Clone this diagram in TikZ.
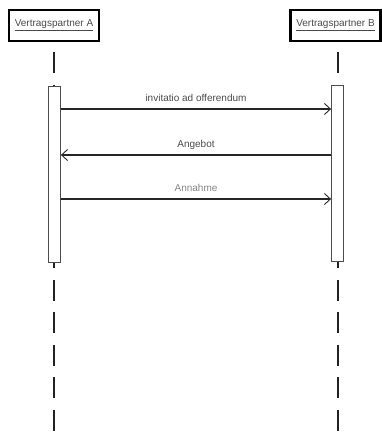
\documentclass[tikz,border=0pt]{standalone}
\usepackage{fontspec}
\setmainfont{Liberation Sans}
\usepackage{xcolor}
\usetikzlibrary{arrows.meta,positioning,calc}

\definecolor{msgtext}{HTML}{4A4A4A}
\definecolor{msgtextlight}{HTML}{858585}
\definecolor{lifeline}{HTML}{222222}

\begin{document}
\begin{tikzpicture}[x=1pt,y=-1pt,
  every node/.style={font=\fontsize{10}{12}\selectfont},
  partner/.style={draw=black,line width=2.4pt,minimum width=90pt,minimum height=31pt,inner sep=0pt,text=msgtext},
  activation/.style={draw=black!70,fill=white,line width=0.8pt,minimum width=12pt,inner sep=0pt},
  lifelinestyle/.style={draw=lifeline,line width=2.5pt,dash pattern=on 21pt off 11.5pt},
  message/.style={draw=black!85,line width=2pt,-{Straight Barb[length=6pt,width=11pt,line width=0.9pt]}}]
\useasboundingbox (0,0) rectangle (382,432);
  % the two partners
  \node[partner] (partnerA) at (54,25.5) {\underline{Vertragspartner A}};
  \node[partner] (partnerB) at (335.5,25.5) {\underline{Vertragspartner B}};
  \coordinate (endA) at (54,432);
  \coordinate (endB) at (338,432);
  \draw[lifelinestyle] (54,52) -- (endA);
  \draw[lifelinestyle] (338,52) -- (endB);
  % activation bars
  \node[activation,minimum height=176pt] (actA) at (54.5,174) {};
  \node[activation,minimum height=176pt] (actB) at (337.5,173) {};
  % messages
  \draw[message] (actA.east |- 0,109) -- node[above=3pt,text=msgtext] {invitatio ad offerendum} (actB.west |- 0,109);
  \draw[message] (actB.west |- 0,155) -- node[above=1pt,text=msgtext] {Angebot} (actA.east |- 0,155);
  \draw[message] (actA.east |- 0,199) -- node[above=3pt,text=msgtextlight] {Annahme} (actB.west |- 0,199);
\end{tikzpicture}
\end{document}
